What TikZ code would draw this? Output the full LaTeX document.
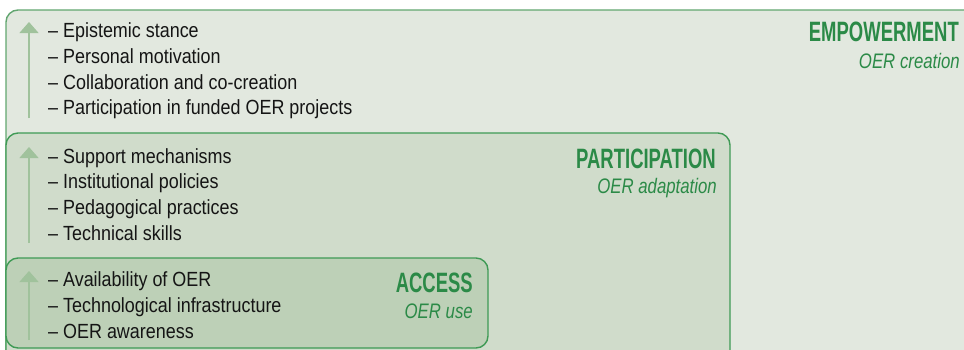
\documentclass[tikz,border=0pt]{standalone}
\usepackage{fontspec}
\usetikzlibrary{arrows.meta}
\newfontfamily\bodyf[FakeStretch=0.875]{Liberation Sans}
\newfontfamily\titlef[FakeStretch=0.66]{Liberation Sans}
\newfontfamily\subf[FakeStretch=0.8]{Liberation Sans}
\definecolor{outerfill}{HTML}{E2E8DF}
\definecolor{partfill}{HTML}{D0DCCB}
\definecolor{accfill}{HTML}{BDD0B7}
\definecolor{outerline}{HTML}{62A670}
\definecolor{boxline}{HTML}{3F9A55}
\definecolor{titlegreen}{HTML}{2B8A47}
\definecolor{arrowgreen}{HTML}{A0C29C}
\definecolor{bodytext}{HTML}{151515}
\tikzset{
  item/.style={anchor=base west, inner sep=0pt, text=bodytext, font=\bodyf\fontsize{20.5}{25}\selectfont},
  ttl/.style={anchor=base east, inner sep=0pt, text=titlegreen, font=\titlef\bfseries\fontsize{28}{30}\selectfont},
  sub/.style={anchor=base east, inner sep=0pt, text=titlegreen, font=\subf\itshape\fontsize{21}{24}\selectfont},
  uparrow/.style={draw=arrowgreen, line width=1.1pt, -{Triangle[width=19pt,length=11pt]}},
  tierbox/.style={rounded corners=12pt, line width=1.4pt}
}
\begin{document}
\begin{tikzpicture}[x=1pt,y=-1pt]
\useasboundingbox (0,0) rectangle (964,349);
\clip (0,0) rectangle (964,349);
\fill[white] (0,0) rectangle (964,349);
% boxes
\draw[tierbox, fill=outerfill, draw=outerline] (6,10) rectangle (1000,420);
\draw[tierbox, fill=partfill, draw=boxline] (6,133) rectangle (730,420);
\draw[tierbox, fill=accfill, draw=boxline] (6,258) rectangle (488,348);
% arrows
\coordinate (ea) at (29,118); \coordinate (eb) at (29,22);
\coordinate (pa) at (29,243); \coordinate (pb) at (29,147);
\coordinate (aa) at (29,340); \coordinate (ab) at (29,271);
\draw[uparrow] (ea) -- (eb);
\draw[uparrow] (pa) -- (pb);
\draw[uparrow] (aa) -- (ab);
% empowerment list
\node[item] (e1) at (48,37.5) {– Epistemic stance};
\node[item] (e2) at (48,63.3) {– Personal motivation};
\node[item] (e3) at (48,89.1) {– Collaboration and co-creation};
\node[item] (e4) at (48,114.9) {– Participation in funded OER projects};
% participation list
\node[item] (p1) at (48,163) {– Support mechanisms};
\node[item] (p2) at (48,188.8) {– Institutional policies};
\node[item] (p3) at (48,214.6) {– Pedagogical practices};
\node[item] (p4) at (48,240.4) {– Technical skills};
% access list
\node[item] (a1) at (48,286.7) {– Availability of OER};
\node[item] (a2) at (48,312.5) {– Technological infrastructure};
\node[item] (a3) at (48,338.3) {– OER awareness};
% titles
\node[ttl] (et) at (959,41) {EMPOWERMENT};
\node[sub] (es) at (960,68) {OER creation};
\node[ttl] (pt) at (716,168) {PARTICIPATION};
\node[sub] (ps) at (717,193.5) {OER adaptation};
\node[ttl] (at) at (473,292) {ACCESS};
\node[sub] (as) at (473,318) {OER use};
\end{tikzpicture}
\end{document}
